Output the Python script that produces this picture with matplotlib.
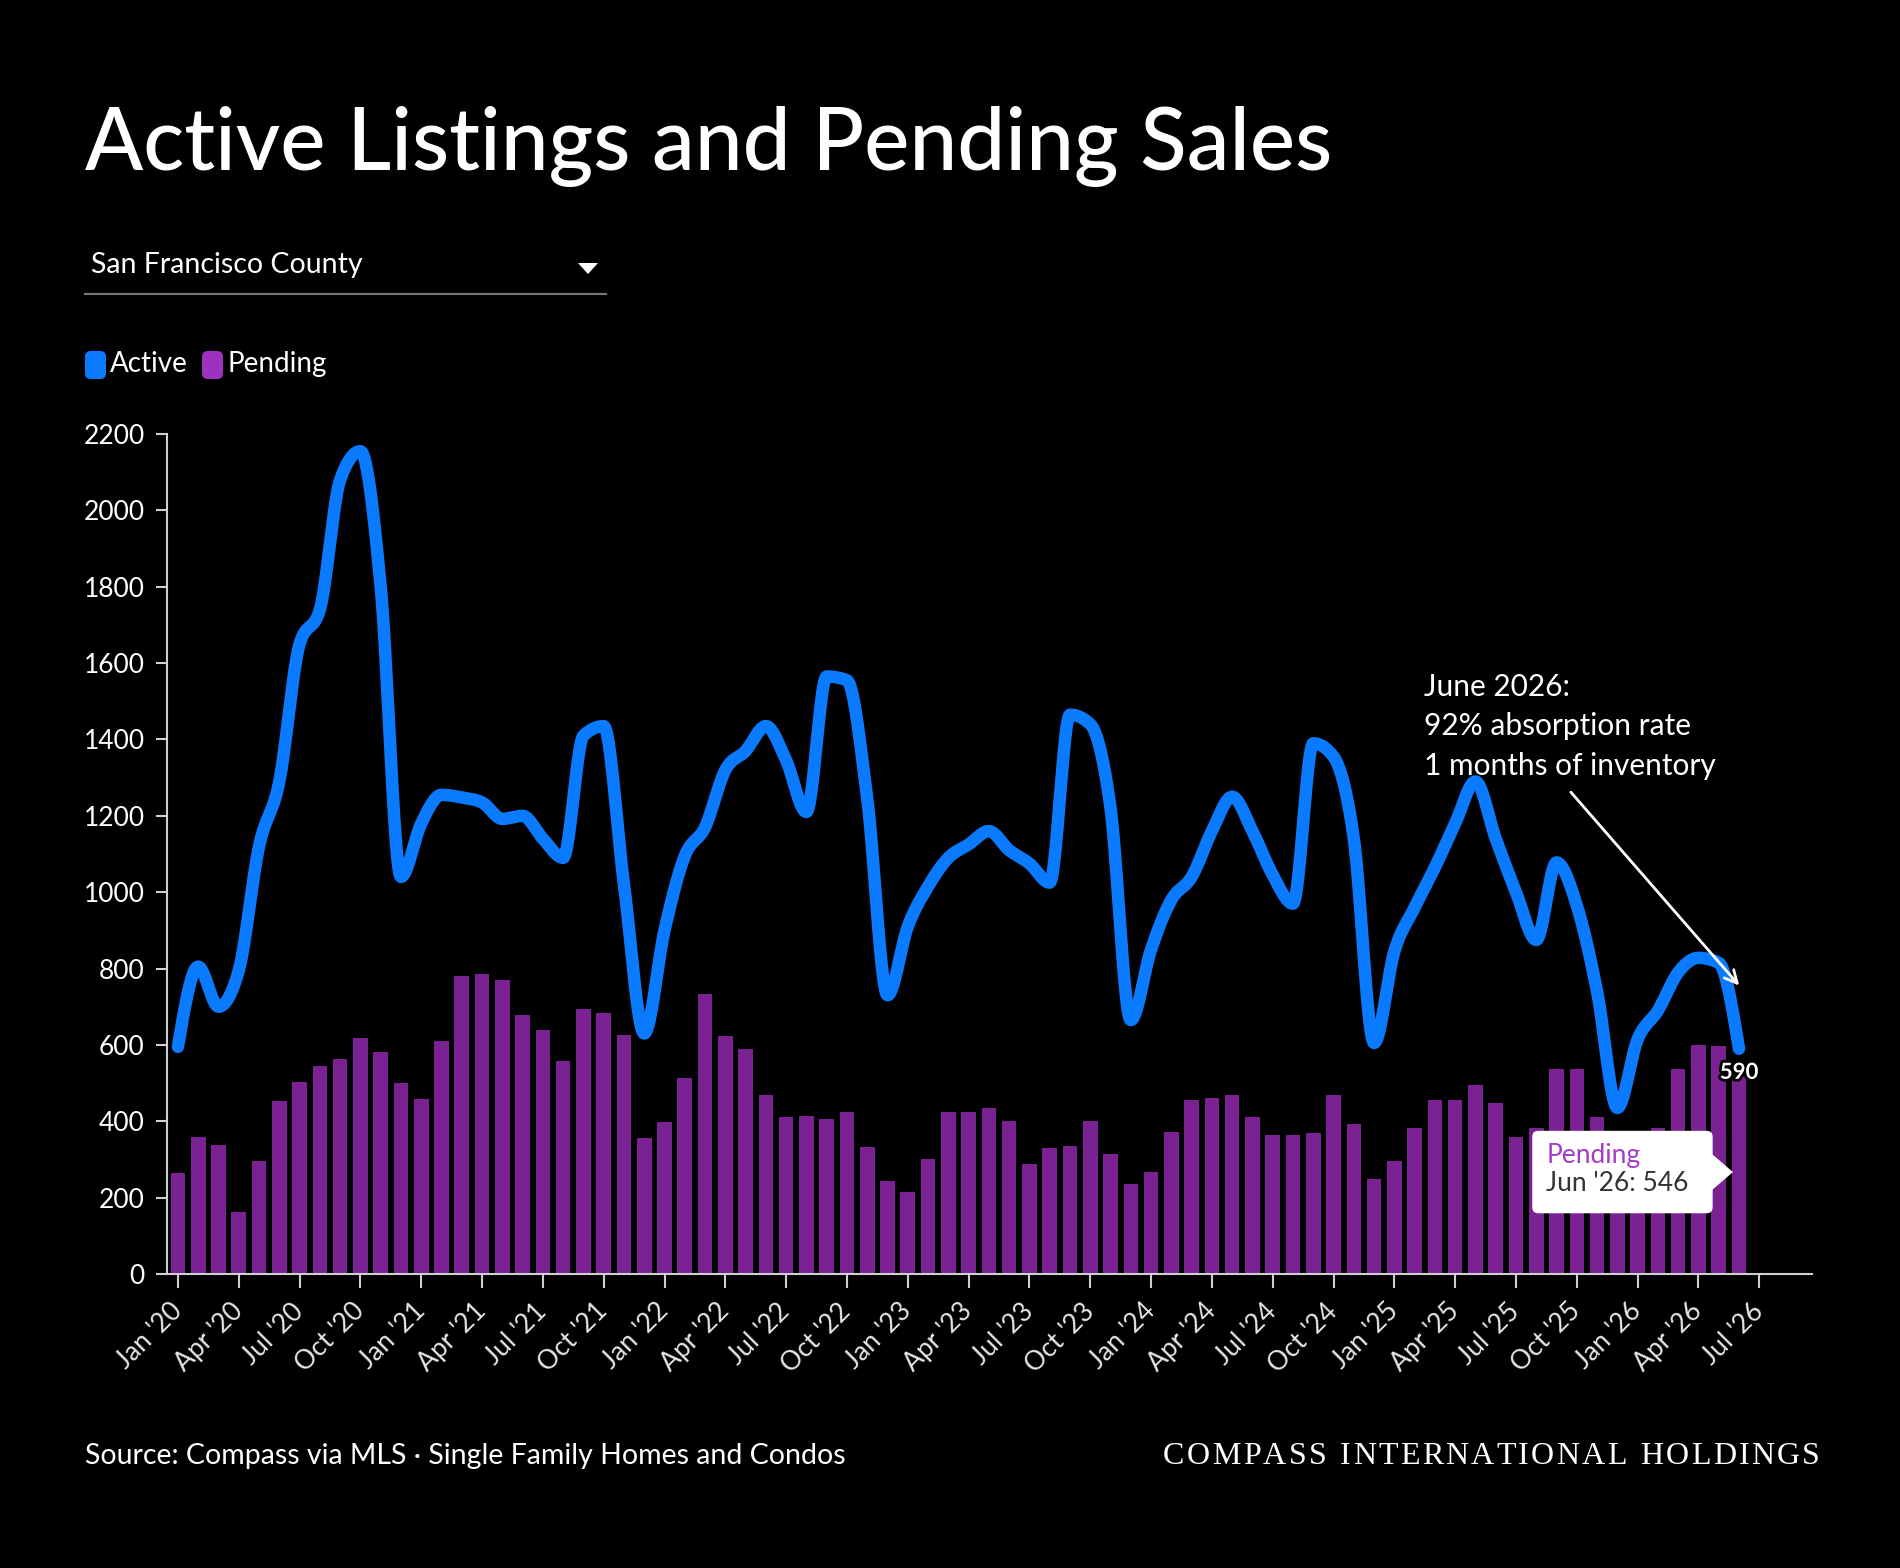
"""Active listings vs pending sales, San Francisco County (Compass style dark chart)."""

import matplotlib

matplotlib.use("Agg")
import matplotlib.pyplot as plt
from matplotlib.patches import FancyBboxPatch, Polygon
import matplotlib.patheffects as pe
import numpy as np

# ---- data (Jan 2020 .. Jun 2026, monthly) ----
active = [
    595, 805, 700, 795, 1120, 1290, 1650, 1740, 2080, 2155, 1800, 1040,
    1180, 1255, 1248, 1235, 1192, 1200, 1140, 1090, 1410, 1435, 1020, 630,
    900, 1095, 1170, 1320, 1370, 1435, 1345, 1210, 1565, 1555, 1245, 730,
    910, 1015, 1090, 1125, 1160, 1110, 1075, 1025, 1465, 1440, 1220, 665,
    850, 980, 1040, 1160, 1250, 1160, 1045, 970, 1390, 1355, 1140, 605,
    845, 960, 1065, 1180, 1290, 1140, 1000, 875, 1078, 965, 740, 435,
    615, 690, 790, 828, 815, 590,
]
pending = [
    264, 358, 338, 163, 297, 454, 503, 544, 562, 619, 581, 501,
    458, 609, 780, 785, 771, 678, 638, 559, 693, 684, 625, 357,
    399, 514, 733, 624, 588, 468, 410, 414, 407, 423, 333, 243,
    214, 302, 424, 424, 436, 402, 289, 331, 335, 400, 313, 237,
    266, 371, 456, 462, 470, 411, 364, 364, 368, 469, 394, 250,
    297, 383, 457, 457, 496, 449, 360, 383, 538, 538, 410, 260,
    290, 383, 538, 600, 597, 546,
]
tick_labels = [
    "Jan '20", "Apr '20", "Jul '20", "Oct '20", "Jan '21", "Apr '21", "Jul '21",
    "Oct '21", "Jan '22", "Apr '22", "Jul '22", "Oct '22", "Jan '23", "Apr '23",
    "Jul '23", "Oct '23", "Jan '24", "Apr '24", "Jul '24", "Oct '24", "Jan '25",
    "Apr '25", "Jul '25", "Oct '25", "Jan '26", "Apr '26", "Jul '26",
]
y_ticks = [0, 200, 400, 600, 800, 1000, 1200, 1400, 1600, 1800, 2000, 2200]
last_label = "Jun '26"
note_lines = ["June 2026:", "92% absorption rate", "1 months of inventory"]

BLUE = "#0A7BFF"
PURPLE = "#7B2292"
PURPLE_LEGEND = "#9E32BE"
FONT = "Lato"
W, H = 1900, 1568


def fx(x):
    return x / W


def fy(y):
    return 1 - y / H


def monotone_curve(y, samples=24):
    """Steffen monotone cubic through unit-spaced points (like d3.curveMonotoneX)."""
    y = np.asarray(y, dtype=float)
    n = len(y)
    s = np.diff(y)
    t = np.zeros(n)
    for k in range(1, n - 1):
        s0, s1 = s[k - 1], s[k]
        p = (s0 + s1) / 2
        t[k] = (np.sign(s0) + np.sign(s1)) * min(abs(s0), abs(s1), 0.5 * abs(p))
    t[0] = (3 * s[0] - t[1]) / 2
    t[-1] = (3 * s[-1] - t[-2]) / 2
    xs, ys = [], []
    u = np.linspace(0, 1, samples, endpoint=False)
    h00 = 2 * u**3 - 3 * u**2 + 1
    h10 = u**3 - 2 * u**2 + u
    h01 = -2 * u**3 + 3 * u**2
    h11 = u**3 - u**2
    for k in range(n - 1):
        xs.append(k + u)
        ys.append(h00 * y[k] + h10 * t[k] + h01 * y[k + 1] + h11 * t[k + 1])
    xs.append([n - 1])
    ys.append([y[-1]])
    return np.concatenate(xs), np.concatenate(ys)


fig = plt.figure(figsize=(W / 100, H / 100), dpi=100, facecolor="black")
ax = fig.add_axes([fx(167), 1 - 1274 / H, fx(1812) - fx(167), (1274 - 434) / H])
ax.set_facecolor("black")

idx = np.arange(len(pending))
ax.bar(idx, pending, width=0.72, color=PURPLE, zorder=2)
cx, cy = monotone_curve(active)
ax.plot(cx, cy, color=BLUE, lw=9, solid_capstyle="round", solid_joinstyle="round", zorder=4)

ax.set_xlim(-0.54, 80.6)
ax.set_ylim(0, 2200)
ax.set_yticks(y_ticks)
ax.set_xticks(np.arange(0, 3 * len(tick_labels), 3))
ax.set_xticklabels(tick_labels, rotation=45, ha="right", va="center", rotation_mode="anchor")
for side in ("top", "right"):
    ax.spines[side].set_visible(False)
for side in ("left", "bottom"):
    ax.spines[side].set_color("#cfcfcf")
    ax.spines[side].set_linewidth(1.5)
ax.tick_params(axis="y", colors="#cfcfcf", labelcolor="white", length=8, width=1.5, pad=8, labelsize=19)
ax.tick_params(axis="x", colors="#cfcfcf", labelcolor="#e6e6e6", length=10, width=1.5, pad=14, labelsize=19)
for lab in ax.get_xticklabels() + ax.get_yticklabels():
    lab.set_fontfamily(FONT)

# last value label on the active line
n = len(active)
ax.annotate(str(active[-1]), xy=(n - 1, active[-1]), xytext=(0, -17), textcoords="offset points",
            ha="center", va="center", color="white", fontsize=16, fontfamily=FONT, fontweight="bold",
            path_effects=[pe.withStroke(linewidth=4, foreground="black")], zorder=6)

# tooltip for the last pending bar
box_l, box_r = n - 1 - 10.2, n - 1 - 1.3
box_b, box_t = 159, 375
tip = FancyBboxPatch((box_l, box_b), box_r - box_l, box_t - box_b,
                     boxstyle="round,pad=0,rounding_size=0.3", mutation_aspect=53,
                     facecolor="white", edgecolor="none", zorder=7)
ax.add_patch(tip)
ax.add_patch(Polygon([(box_r - 0.05, 267 + 48), (box_r + 1.0, 267), (box_r - 0.05, 267 - 48)],
                     closed=True, facecolor="white", edgecolor="none", zorder=7))
ax.text(box_l + 0.7, 311, "Pending", color="#A43BC8", fontsize=19, fontfamily=FONT,
        va="center", ha="left", zorder=8)
ax.text(box_l + 0.7, 238, f"{last_label}: {pending[-1]}", color="#333333", fontsize=19,
        fontfamily=FONT, va="center", ha="left", zorder=8)

# annotation note and arrow
fig.text(fx(1424), fy(673), "\n".join(note_lines), color="white", fontsize=21.5, fontfamily=FONT,
         va="top", ha="left", linespacing=1.5)
ax.annotate("", xy=(n - 0.9, 750), xytext=(fx(1569), fy(790)), textcoords="figure fraction",
            arrowprops=dict(arrowstyle="->,head_length=0.9,head_width=0.45", color="white", lw=2),
            zorder=9)

# title, dropdown, legend, footer
fig.text(fx(85), fy(170), "Active Listings and Pending Sales", color="white", fontsize=61.6,
         fontfamily=FONT, fontweight="medium", va="baseline", ha="left")
fig.text(fx(91), fy(265), "San Francisco County", color="white", fontsize=20.5, fontfamily=FONT,
         va="center", ha="left")
fig.add_artist(plt.Line2D([fx(85), fx(606)], [fy(294), fy(294)], color="#777777", lw=1.5))
fig.add_artist(Polygon([(fx(578), fy(263)), (fx(598), fy(263)), (fx(588), fy(274))], closed=True,
                       facecolor="white", edgecolor="none"))
for x0, col, label in [(85, BLUE, "Active"), (202, PURPLE_LEGEND, "Pending")]:
    fig.add_artist(FancyBboxPatch((fx(x0), fy(379)), fx(21), 28 / H,
                                  boxstyle="round,pad=0,rounding_size=0.003", mutation_aspect=1.2,
                                  facecolor=col, edgecolor="none", transform=fig.transFigure))
    fig.text(fx(x0 + 25), fy(364), label, color="white", fontsize=20, fontfamily=FONT,
             va="center", ha="left")
fig.text(fx(85), fy(1456), "Source: Compass via MLS \u00b7 Single Family Homes and Condos", color="white",
         fontsize=20.5, fontfamily=FONT, va="center", ha="left")

# spaced serif wordmark, right aligned
brand = "COMPASS INTERNATIONAL HOLDINGS"
renderer = fig.canvas.get_renderer()
tracking = 2.3
chars = []
x_cur = 0.0
for ch in brand:
    t = fig.text(0, fy(1456), ch, color="white", fontsize=23, fontfamily="Liberation Serif",
                 va="center", ha="left")
    w = t.get_window_extent(renderer).width if ch != " " else 9
    chars.append((t, x_cur))
    x_cur += w + tracking
total = x_cur - tracking
start = 1820 - total
for t, off in chars:
    t.set_x(fx(start + off))

fig.savefig("out.png", dpi=100, facecolor="black")
